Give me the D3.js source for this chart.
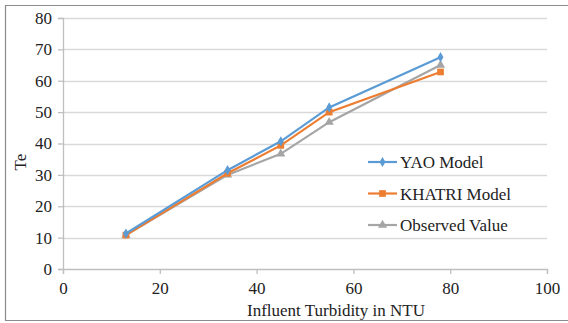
<!DOCTYPE html>
<html>
<head>
<meta charset="utf-8">
<script src="https://cdn.jsdelivr.net/npm/d3@7"></script>
<style>
  body { margin: 0; background: #fff; }
</style>
</head>
<body>
<div id="chart"></div>
<script>
// Chart data
var turbidity = [13, 34, 45, 55, 78];
var yaoModel = [11.3, 31.5, 40.7, 51.5, 67.5];
var khatriModel = [10.8, 30.5, 39.4, 50, 62.8];
var observedValue = [10.8, 30, 36.7, 46.8, 65];
var seriesNames = ["YAO Model", "KHATRI Model", "Observed Value"];
var xTicks = [0, 20, 40, 60, 80, 100];
var yTicks = [0, 10, 20, 30, 40, 50, 60, 70, 80];

var svgWidth = 568;
var svgHeight = 323;
var serif = "Liberation Serif";

var margin = { top: 18, right: 21, bottom: 54, left: 63 };
var chartWidth = svgWidth - margin.left - margin.right;
var chartHeight = svgHeight - margin.top - margin.bottom;

var svg = d3.select("#chart")
  .append("svg")
  .attr("width", svgWidth)
  .attr("height", svgHeight)
  .attr("font-family", serif);

// outer frame (no right edge visible in the original)
svg.append("path")
  .attr("d", "M568,5.5 H5.5 V320.5 H568")
  .attr("fill", "none")
  .attr("stroke", "#8c8c8c")
  .attr("stroke-width", 1.2);

var chartGroup = svg.append("g")
  .attr("transform", `translate(${margin.left}, ${margin.top})`);

var xScale = d3.scaleLinear().domain([0, 100]).range([0, chartWidth]);
var yScale = d3.scaleLinear().domain([0, 80]).range([chartHeight, 0]);

// gridlines
chartGroup.append("g")
  .selectAll("line")
  .data(yTicks.filter(d => d > 0))
  .enter()
  .append("line")
  .attr("x1", 0)
  .attr("x2", chartWidth)
  .attr("y1", d => Math.round(yScale(d)) + 0.5)
  .attr("y2", d => Math.round(yScale(d)) + 0.5)
  .attr("stroke", "#d9d9d9")
  .attr("stroke-width", 1.3);

// axes
var leftAxis = d3.axisLeft(yScale).tickValues(yTicks).tickSize(5).tickPadding(6);
var bottomAxis = d3.axisBottom(xScale).tickValues(xTicks).tickSize(5).tickPadding(8);

var yAxisG = chartGroup.append("g").call(leftAxis);
var xAxisG = chartGroup.append("g")
  .attr("transform", "translate(0, " + chartHeight + ")")
  .call(bottomAxis);

[yAxisG, xAxisG].forEach(function(g) {
  g.attr("font-family", serif).attr("font-size", 17);
  g.selectAll("path, line").attr("stroke", "#bfbfbf").attr("stroke-width", 1.3);
  g.selectAll("text")
    .attr("font-family", serif)
    .attr("font-size", 17)
    .attr("fill", "#222");
});

// series
var colors = ["#5b9bd5", "#ed7d31", "#a5a5a5"];
var seriesValues = [yaoModel, khatriModel, observedValue];
var symbols = [d3.symbolDiamond, d3.symbolSquare, d3.symbolTriangle];
var symbolSizes = [30, 45, 36];

var drawLine = d3.line()
  .x(d => xScale(d.x))
  .y(d => yScale(d.y));

// draw observed first so model lines sit above
[2, 1, 0].forEach(function(i) {
  var pts = turbidity.map((t, j) => ({ x: t, y: seriesValues[i][j] }));
  chartGroup.append("path")
    .attr("d", drawLine(pts))
    .attr("fill", "none")
    .attr("stroke", colors[i])
    .attr("stroke-width", 2.2);
  chartGroup.append("g")
    .selectAll("path")
    .data(pts)
    .enter()
    .append("path")
    .attr("transform", d => `translate(${xScale(d.x)}, ${yScale(d.y)})`)
    .attr("d", d3.symbol().type(symbols[i]).size(symbolSizes[i]))
    .attr("fill", colors[i]);
});

// legend
var legend = svg.append("g").attr("transform", "translate(368, 162)");
seriesNames.forEach(function(name, i) {
  var row = legend.append("g").attr("transform", `translate(0, ${i * 31.5})`);
  row.append("line")
    .attr("x1", 0).attr("x2", 29)
    .attr("y1", 0).attr("y2", 0)
    .attr("stroke", colors[i])
    .attr("stroke-width", 2.2);
  row.append("path")
    .attr("transform", "translate(14.5, 0)")
    .attr("d", d3.symbol().type(symbols[i]).size(symbolSizes[i]))
    .attr("fill", colors[i]);
  row.append("text")
    .attr("x", 32)
    .attr("y", 6)
    .attr("font-family", serif)
    .attr("font-size", 17)
    .attr("fill", "#222")
    .text(name);
});

// labels
svg.append("text")
  .attr("x", 336)
  .attr("y", 316)
  .attr("text-anchor", "middle")
  .attr("font-family", serif)
  .attr("font-size", 17)
  .attr("fill", "#222")
  .text("Influent Turbidity in NTU");

svg.append("text")
  .attr("transform", "translate(26, 162) rotate(-90)")
  .attr("text-anchor", "middle")
  .attr("font-family", serif)
  .attr("font-size", 17)
  .attr("fill", "#222")
  .text("Te");
</script>
</body>
</html>
